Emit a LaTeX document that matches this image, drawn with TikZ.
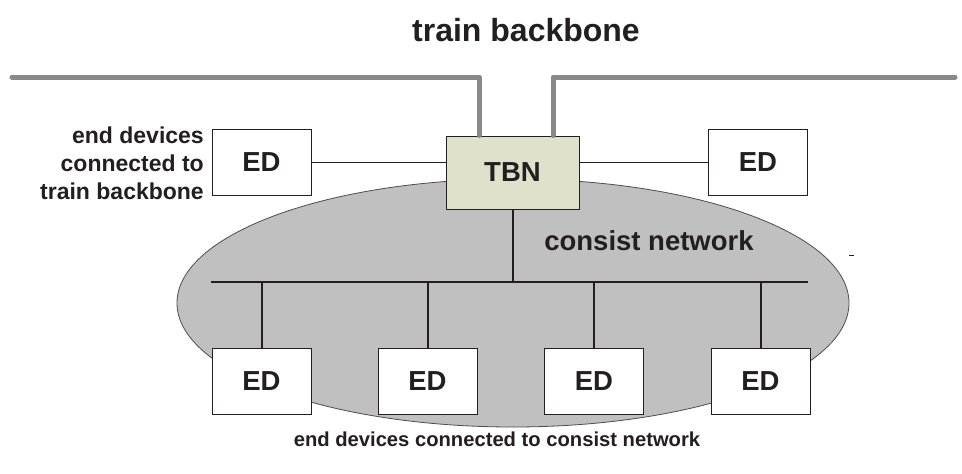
\documentclass[tikz,border=0pt]{standalone}
\usepackage{fontspec}
\setmainfont{Liberation Sans}
\usetikzlibrary{shapes.geometric}
\definecolor{txt}{HTML}{231F20}
\definecolor{bbgray}{HTML}{898989}
\definecolor{netgray}{HTML}{C0C0C0}
\definecolor{tbnfill}{HTML}{DFE1CB}
\tikzset{
  devbox/.style={draw=txt, line width=1pt, fill=white, minimum width=99pt, minimum height=66pt,
    inner sep=0pt, font=\fontsize{27.5}{32}\selectfont\bfseries, text=txt},
  tbnbox/.style={devbox, fill=tbnfill, minimum width=133pt, minimum height=73pt},
  backbone/.style={bbgray, line width=5pt, line cap=round, line join=round},
  busline/.style={txt, line width=2.6pt},
  dropline/.style={txt, line width=2pt},
  thinlink/.style={txt, line width=1pt},
  lbl/.style={text=txt, inner sep=0pt, font=\bfseries}
}
\begin{document}
\begin{tikzpicture}[x=1pt, y=-1pt]
  \useasboundingbox[fill=white] (0,0) rectangle (962,474);

  % consist network area
  \node[ellipse, draw=txt!80, line width=0.8pt, fill=netgray, minimum width=672pt,
        minimum height=248pt, inner sep=0pt] (cn) at (513,303) {};

  % devices and train backbone node
  \node[tbnbox] (tbn) at (512.5,172.5) {TBN};
  \node[devbox] (edL) at (261.5,162) {ED};
  \node[devbox] (edR) at (758,162) {ED};
  \node[devbox] (ed1) at (261.5,381) {ED};
  \node[devbox] (ed2) at (427.5,381) {ED};
  \node[devbox] (ed3) at (594,381) {ED};
  \node[devbox] (ed4) at (760.5,381) {ED};

  % train backbone lines
  \coordinate (bbL) at (12,77);
  \coordinate (bbR) at (955,77);
  \draw[backbone] (bbL) -| ([xshift=-33.5pt]tbn.north);
  \draw[backbone] (bbR) -| ([xshift=40.5pt]tbn.north);

  % links of the backbone end devices
  \draw[thinlink] (edL.east) -- (edL.east -| tbn.west);
  \draw[thinlink] (edR.west) -- (edR.west -| tbn.east);

  % consist bus
  \coordinate (busL) at (211,282);
  \coordinate (busR) at (808,282);
  \draw[busline] (busL) -- (busR);
  \draw[dropline] (tbn.south) -- (tbn.south |- busL);
  \foreach \d in {ed1,ed2,ed3,ed4}
    \draw[dropline] (\d.north |- busL) -- (\d.north);

  % small mark right of the network
  \coordinate (mk1) at (849,255);
  \coordinate (mk2) at (854,255);
  \draw[txt, line width=0.8pt] (mk1) -- (mk2);

  % labels
  \node[lbl, font=\fontsize{32}{38}\selectfont\bfseries] (title) at (526,30) {train backbone};
  \node[lbl, font=\fontsize{27.5}{32}\selectfont\bfseries] (cnlbl) at (649,241) {consist network};
  \node[lbl, align=right, anchor=east, font=\fontsize{23}{28}\selectfont\bfseries] (edtb) at (204,163)
    {end devices\\connected to\\train backbone};
  \node[lbl, font=\fontsize{20.2}{24}\selectfont\bfseries] (edcn) at (497,439)
    {end devices connected to consist network};
\end{tikzpicture}
\end{document}
